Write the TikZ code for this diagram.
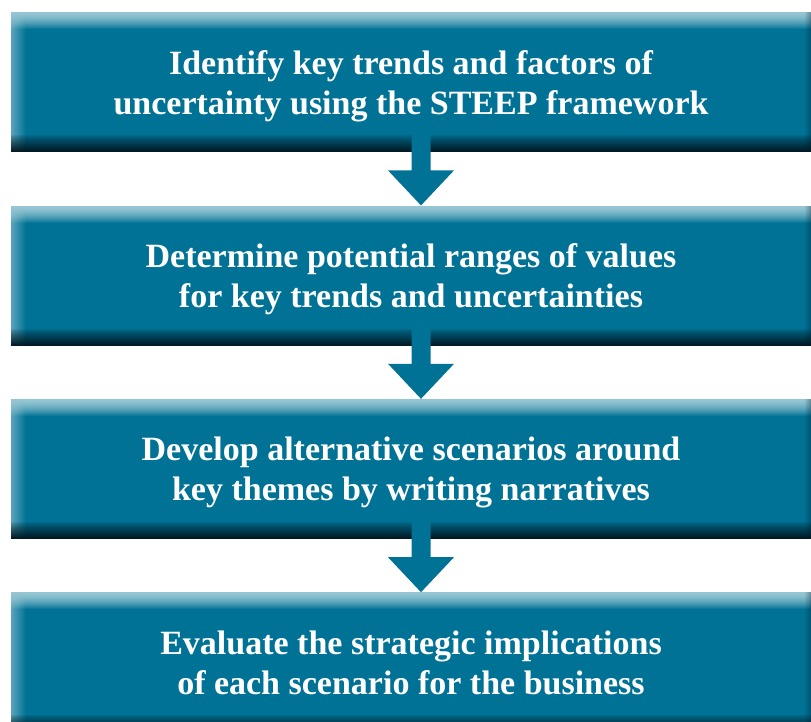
\documentclass[tikz,border=0pt]{standalone}
\usepackage{fontspec}
\setmainfont{Liberation Serif}
\usetikzlibrary{positioning,calc}
\definecolor{stepteal}{RGB}{0,114,150}
\definecolor{steplight}{RGB}{150,198,212}
\definecolor{stepdark}{RGB}{0,22,32}
\def\ppb{path picture bounding box}
\tikzstyle{stagebox}=[anchor=north, minimum width=800pt, minimum height=140pt,
  inner sep=0pt, fill=stepteal, text=white, align=center, text depth=0pt,
  font=\bfseries\fontsize{34}{40}\selectfont,
  path picture={
    % bevel: light top and left, dark right and bottom
    \foreach \i in {0,...,16}{
      \pgfmathsetmacro\op{1-(\i/17)^1.6}
      \fill[steplight, opacity=\op] ([yshift=-\i pt]\ppb.north west) rectangle ([yshift=-\i pt-1pt]\ppb.north east);}
    \foreach \i in {0,...,14}{
      \pgfmathsetmacro\op{0.6*(1-\i/15)}
      \fill[steplight, opacity=\op] ([xshift=\i pt]\ppb.north west) rectangle ([xshift=\i pt+1pt]\ppb.south west);}
    \foreach \i in {0,...,6}{
      \pgfmathsetmacro\op{0.35*(\i/7)}
      \fill[stepdark, opacity=\op] ([xshift=\i pt-7pt]\ppb.north east) rectangle ([xshift=\i pt-6pt]\ppb.south east);}
    \foreach \i in {0,...,17}{
      \pgfmathsetmacro\op{(\i/18)^0.8}
      \fill[stepdark, opacity=\op] ([yshift=18pt-\i pt]\ppb.south west) rectangle ([yshift=17pt-\i pt]\ppb.south east);}
  }]
\tikzstyle{flowarrow}=[fill=stepteal]
\newcommand{\stage}[2]{node (s#1) [stagebox] {#2}}
\newcommand{\flow}[2]{\fill[flowarrow]
  ($(#1.south)+(0.5,20)$) -- ($(#2.north)+(0.5,35)$) -- ($(#2.north)+(-23,35)$) --
  ($(#2.north)+(10,0)$) -- ($(#2.north)+(43,35)$) -- ($(#2.north)+(19.5,35)$) --
  ($(#1.south)+(19.5,20)$) -- cycle;}

\begin{document}
\begin{tikzpicture}[x=1pt, y=1pt]
\useasboundingbox (0,0) rectangle (811,721);
\clip (0,0) rectangle (811,721);
% Draw the four stages
\path (411,709)                \stage{1}{Identify key trends and factors of\\uncertainty using the STEEP framework};
\path (s1.south) +(0,-53)      \stage{2}{Determine potential ranges of values\\for key trends and uncertainties};
\path (s2.south) +(0,-53)      \stage{3}{Develop alternative scenarios around\\key themes by writing narratives};
\path (s3.south) +(0,-53)      \stage{4}{Evaluate the strategic implications\\of each scenario for the business};

% Draw arrows between stages
\flow{s1}{s2}
\flow{s2}{s3}
\flow{s3}{s4}
\end{tikzpicture}
\end{document}
